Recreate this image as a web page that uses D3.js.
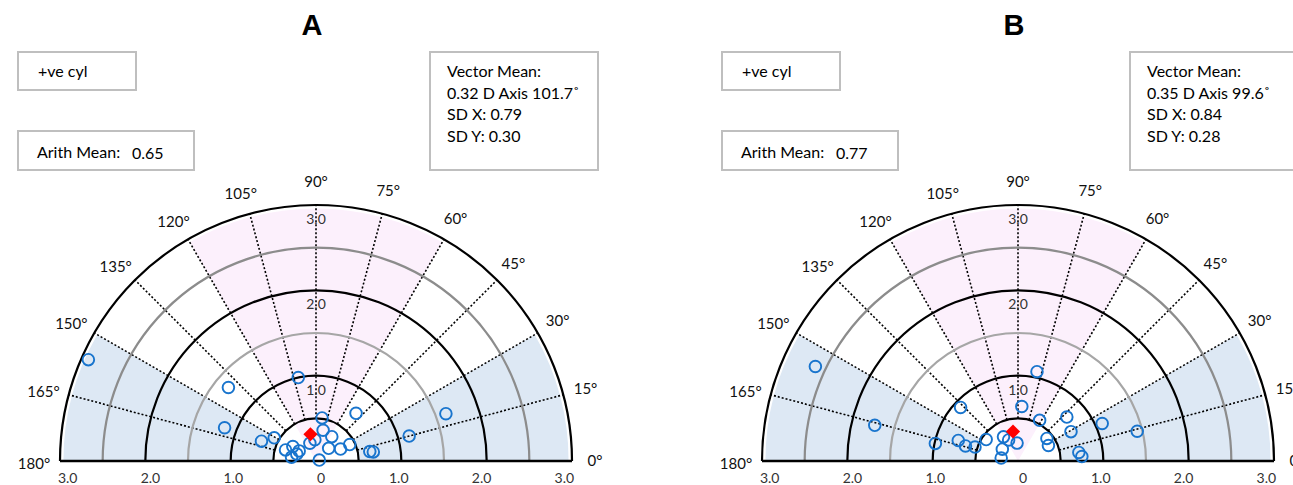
<!DOCTYPE html>
<html>
<head>
<meta charset="utf-8">
<script src="https://cdn.jsdelivr.net/npm/d3@7"></script>
<style>
  body { margin: 0; background: #fff; }
  svg { display: block; font-family: Lato, "Open Sans", sans-serif; }
</style>
</head>
<body>
<svg id="chart" width="1293" height="485"></svg>
<script>
// rings (dioptres), axis spokes (degrees), tick labels under the baseline
var ringValues = [0.5, 1.0, 1.5, 2.0, 2.5, 3.0];
var ringColors = ["#000", "#000", "#a6a6a6", "#000", "#8c8c8c", "#000"];
var spokeAngles = [15, 30, 45, 60, 75, 90, 105, 120, 135, 150, 165];
var angleLabels = [0, 15, 30, 45, 60, 75, 90, 105, 120, 135, 150, 165, 180];
var baseTicks = [-3, -2, -1, 0, 1, 2, 3];
var radialTicks = [1, 2, 3];

// panel A: cylinder magnitude (D) and axis (deg)
var cylA  = [2.92, 1.34, 1.14, 0.68, 0.56, 1.00, 0.38, 0.32, 0.23, 0.29, 0.24, 0.22, 0.25,
             0.51, 0.37, 0.34, 0.21, 0.32, 0.44, 0.04, 0.73, 0.64, 0.68, 1.13, 1.62];
var axisA = [156, 140, 160, 160, 151, 102, 160, 148, 149, 171, 160, 109, 93,
             82, 77, 57, 45, 26, 26, 16, 50, 10, 9, 15, 20];
var meanA = [0.32, 101.7];
var statsA = ["Vector Mean:", "0.32 D Axis 101.7\u02da", "SD X: 0.79", "SD Y: 0.30"];
var arithA = "0.65";

// panel B
var cylB  = [2.62, 1.73, 0.99, 0.92, 0.74, 0.64, 0.53, 0.45, 0.33, 0.27, 0.21, 0.23,
             0.20, 0.64, 1.07, 0.54, 0.43, 0.40, 0.77, 0.71, 0.72, 0.75, 1.08, 1.44];
var axisB = [155, 166, 168, 137, 161, 164, 162, 146, 121, 114, 93, 143,
             170, 86, 78, 62, 38, 27, 42, 29, 8, 4, 24, 14];
var meanB = [0.35, 99.6];
var statsB = ["Vector Mean:", "0.35 D Axis 99.6\u02da", "SD X: 0.84", "SD Y: 0.28"];
var arithB = "0.77";

var svg = d3.select("#chart");
var rad = d3.scaleLinear().domain([0, 3]).range([0, 256]);
var cy = 461;

function polar(cx, d, deg) {
  var a = deg * Math.PI / 180;
  return [cx + rad(d) * Math.cos(a), cy - rad(d) * Math.sin(a)];
}

function drawPanel(cx, title, cyl, axis, mean, stats, arith, boxX, statX, statW) {
  var g = svg.append("g");

  g.append("text")
    .attr("x", cx - 4).attr("y", 35)
    .attr("text-anchor", "middle")
    .style("font-family", "'Liberation Sans', Arial, sans-serif")
    .style("font-weight", "bold").style("font-size", "29px")
    .text(title);

  // text boxes
  function box(x, y, w, h) {
    g.append("rect").attr("x", x).attr("y", y).attr("width", w).attr("height", h)
      .style("fill", "#fff").style("stroke", "#bfbfbf").style("stroke-width", 2);
  }
  box(boxX, 52, 118, 38);
  g.append("text").attr("x", boxX + 20).attr("y", 77).style("font-size", "16px").text("+ve cyl");
  box(boxX, 131, 176, 39);
  g.append("text").attr("x", boxX + 19).attr("y", 158).style("font-size", "16px").text("Arith Mean:");
  g.append("text").attr("x", boxX + 114).attr("y", 159).style("font-size", "16px").text(arith);
  box(statX, 52, statW, 118);
  g.selectAll(".stat").data(stats).enter().append("text")
    .attr("x", statX + 17).attr("y", function(d, i) { return 77 + i * 21.5; })
    .style("font-size", "16px").text(function(d) { return d; });

  // shaded sectors
  var arc = d3.arc();
  function sector(r0, r1, a0, a1, col) {
    g.append("path")
      .attr("transform", "translate(" + cx + "," + cy + ")")
      .attr("d", arc({ innerRadius: rad(r0), outerRadius: rad(r1),
                       startAngle: (90 - a0) * Math.PI / 180, endAngle: (90 - a1) * Math.PI / 180 }))
      .style("fill", col);
  }
  sector(0, 2.96, 60, 120, "#fcf0fc");
  sector(0.5, 2.96, 0, 30, "#dde8f4");
  sector(0.5, 2.96, 150, 180, "#dde8f4");

  // spokes
  g.selectAll(".spoke").data(spokeAngles).enter().append("line")
    .attr("x1", function(d) { return polar(cx, 0.5, d)[0]; })
    .attr("y1", function(d) { return polar(cx, 0.5, d)[1]; })
    .attr("x2", function(d) { return polar(cx, 3, d)[0]; })
    .attr("y2", function(d) { return polar(cx, 3, d)[1]; })
    .style("stroke", "#000").style("stroke-width", 1.6).style("stroke-dasharray", "2,2");

  // rings
  g.selectAll(".ring").data(ringValues).enter().append("path")
    .attr("transform", "translate(" + cx + "," + cy + ")")
    .attr("d", function(d) {
      return arc({ innerRadius: rad(d), outerRadius: rad(d), startAngle: -Math.PI / 2, endAngle: Math.PI / 2 });
    })
    .style("fill", "none")
    .style("stroke", function(d, i) { return ringColors[i]; })
    .style("stroke-width", 2.2);

  // baseline
  var xs = d3.scaleLinear().domain([-3, 3]).range([cx - rad(3), cx + rad(3)]);
  g.append("line").attr("x1", xs(-3)).attr("x2", xs(3)).attr("y1", cy).attr("y2", cy)
    .style("stroke", "#000").style("stroke-width", 2.4);

  g.selectAll(".tick").data(baseTicks).enter().append("text")
    .attr("x", function(d) { return xs(d * 0.97) + (d === 0 ? 5 : 0); })
    .attr("y", 483)
    .attr("text-anchor", "middle")
    .style("font-size", "14px").style("fill", "#333")
    .text(function(d) { return d === 0 ? "0" : Math.abs(d).toFixed(1); });

  g.selectAll(".rtick").data(radialTicks).enter().append("text")
    .attr("x", cx).attr("y", function(d) { return cy - rad(d) + 19; })
    .attr("text-anchor", "middle")
    .style("font-size", "14px").style("fill", "#333")
    .text(function(d) { return d.toFixed(1); });

  g.selectAll(".alab").data(angleLabels).enter().append("text")
    .attr("x", function(d) { return polar(cx, 3.27, d)[0] - (d > 90 ? 3 : 0); })
    .attr("y", function(d) { return polar(cx, 3.27, d)[1] + 5 + (d > 90 ? 3 : 0); })
    .attr("text-anchor", "middle")
    .style("font-size", "15px").style("fill", "#111")
    .text(function(d) { return d + "\u00b0"; });

  // data points
  g.selectAll(".pt").data(cyl).enter().append("circle")
    .attr("cx", function(d, i) { return polar(cx, d, axis[i])[0]; })
    .attr("cy", function(d, i) { return polar(cx, d, axis[i])[1]; })
    .attr("r", 5.8)
    .style("fill", "none").style("stroke", "#1874cd").style("stroke-width", 1.9);

  var m = polar(cx, mean[0], mean[1]);
  g.append("path")
    .attr("transform", "translate(" + m[0] + "," + m[1] + ") rotate(45)")
    .attr("d", d3.symbol().type(d3.symbolSquare).size(100))
    .style("fill", "#ff0000");
}

drawPanel(316, "A", cylA, axisA, meanA, statsA, arithA, 18, 430, 168);
drawPanel(1018, "B", cylB, axisB, meanB, statsB, arithB, 722, 1130, 175);
</script>
</body>
</html>
